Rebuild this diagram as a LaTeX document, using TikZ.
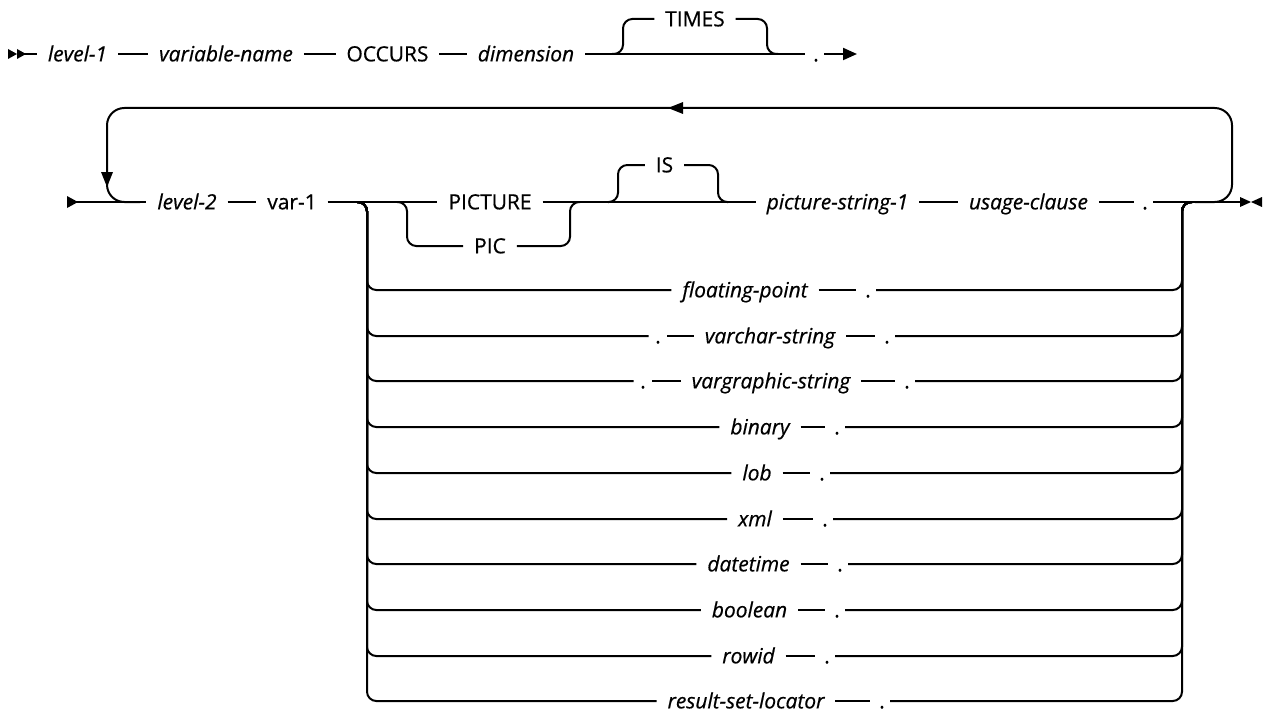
\documentclass[tikz,border=0pt]{standalone}
\usepackage{fontspec}
\setmainfont{Open Sans}[FakeBold=0.6]
\usetikzlibrary{arrows.meta}
\begin{document}
\begin{tikzpicture}[x=0.75pt,y=-0.75pt, line width=1.5pt,
  every node/.style={font=\fontsize{15.7}{18}\selectfont, inner ysep=0pt, inner xsep=7.5pt, text height=11pt, text depth=0pt},
  var/.style={font=\fontsize{15.7}{18}\selectfont\itshape},
  dotn/.style={inner sep=0pt},
  rr/.style={rounded corners=7pt},
  loopr/.style={rounded corners=13pt},
  endarrow/.style={-{Triangle[length=10.5pt,width=9pt]}},
]
\useasboundingbox[fill=white] (0,0) rectangle (1269,713);

% ---------- Row 1 ----------
\fill (8,49) -- (17,54) -- (8,59) -- cycle;
\fill (17,49) -- (26,54) -- (17,59) -- cycle;
\coordinate (s1) at (24,54);
\node[var] (L1) at (77.5,54) {level-1};
\node[var] (VN) at (226,54) {variable-name};
\node (OC) at (387.5,54) {OCCURS};
\node[var] (DIM) at (526,54) {dimension};
\node (TIMES) at (695,19) {TIMES};
\node[dotn] (D0) at (816,54) {.};
\coordinate (e1) at (857,54);
\draw (s1) -- (L1) -- (VN) -- (OC) -- (DIM) -- ([xshift=-8pt]D0.center);
\draw[endarrow] ([xshift=6pt]D0.center) -- (e1);
\draw[rr] (612,54) -- (623,54) -- (623,19) -- (TIMES);
\draw[rr] (TIMES) -- (767,19) -- (767,54) -- (778,54);

% ---------- Row 2 ----------
\fill (67,196) -- (78,202) -- (67,208) -- cycle;
\coordinate (s2) at (76,202);
\node[var] (L2) at (187,202) {level-2};
\node (V1) at (292,202) {var-1};
\node (PICT) at (490,202) {PICTURE};
\node (PIC) at (490,246) {PIC};
\node (IS) at (664.5,165) {IS};
\node[var] (PS) at (837.5,202) {picture-string-1};
\node[var] (UC) at (1028.5,202) {usage-clause};
\node[dotn] (D1) at (1145,202) {.};
\coordinate (e2) at (1241,202);
\draw (s2) -- (L2) -- (V1) -- (PICT) -- (PS) -- (UC) -- ([xshift=-8pt]D1.center);
\draw ([xshift=6pt]D1.center) -- (e2);
\fill (1240,197) -- (1251,202) -- (1240,207) -- cycle;
\fill (1262,197) -- (1251,202) -- (1262,207) -- cycle;

% repeat loop
\draw[loopr] (1195,202) -- (1232,202) -- (1232,108) -- (107,108) -- (107,202) -- (140,202);
\fill (668,108) -- (683,102) -- (683,114) -- cycle;
\fill (107,187) -- (101,172) -- (113,172) -- cycle;

% PICTURE / PIC
\draw[rr] (397,202) -- (407,202) -- (407,246) -- (PIC);
\draw[rr] (PIC) -- (570,246) -- (570,202) -- (580,202);
% optional IS
\draw[rr] (608,202) -- (618,202) -- (618,165) -- (IS);
\draw[rr] (IS) -- (718,165) -- (718,202) -- (728,202);

% ---------- Alternatives ----------
\node[var] (FP) at (745,290) {floating-point};
\node[dotn] (FPd) at (868,290) {.};
\node[dotn] (VCa) at (658,336) {.};
\node[var] (VC) at (770,336) {varchar-string};
\node[dotn] (VCb) at (887,336) {.};
\node[dotn] (VGa) at (643,381) {.};
\node[var] (VG) at (771,381) {vargraphic-string};
\node[dotn] (VGb) at (907,381) {.};
\node[var] (BI) at (760,427) {binary};
\node[dotn] (BId) at (837,427) {.};
\node[var] (LO) at (757,473) {lob};
\node[dotn] (LOd) at (822,473) {.};
\node[var] (XM) at (755,519) {xml};
\node[dotn] (XMd) at (825,519) {.};
\node[var] (DT) at (748.5,564) {datetime};
\node[dotn] (DTd) at (840,564) {.};
\node[var] (BO) at (749.5,610) {boolean};
\node[dotn] (BOd) at (837,610) {.};
\node[var] (RI) at (748.5,656) {rowid};
\node[dotn] (RId) at (827,656) {.};
\node[var] (RS) at (746,701) {result-set-locator};
\node[dotn] (RSd) at (882,701) {.};

% left rails
\draw[rr] (357,202) -- (367,202) -- (367,290) -- (FP);
\draw[rr] (357,202) -- (367,202) -- (367,336) -- ([xshift=-7pt]VCa.center);
\draw[rr] (357,202) -- (367,202) -- (367,381) -- ([xshift=-7pt]VGa.center);
\draw[rr] (357,202) -- (367,202) -- (367,427) -- (BI);
\draw[rr] (357,202) -- (367,202) -- (367,473) -- (LO);
\draw[rr] (357,202) -- (367,202) -- (367,519) -- (XM);
\draw[rr] (357,202) -- (367,202) -- (367,564) -- (DT);
\draw[rr] (357,202) -- (367,202) -- (367,610) -- (BO);
\draw[rr] (357,202) -- (367,202) -- (367,656) -- (RI);
\draw[rr] (357,202) -- (367,202) -- (367,701) -- (RS);

% inner segments
\draw (FP) -- ([xshift=-9pt]FPd.center);
\draw ([xshift=7pt]VCa.center) -- (VC) -- ([xshift=-9pt]VCb.center);
\draw ([xshift=7pt]VGa.center) -- (VG) -- ([xshift=-9pt]VGb.center);
\draw (BI) -- ([xshift=-9pt]BId.center);
\draw (LO) -- ([xshift=-9pt]LOd.center);
\draw (XM) -- ([xshift=-9pt]XMd.center);
\draw (DT) -- ([xshift=-9pt]DTd.center);
\draw (BO) -- ([xshift=-9pt]BOd.center);
\draw (RI) -- ([xshift=-9pt]RId.center);
\draw (RS) -- ([xshift=-9pt]RSd.center);

% right rails
\draw[rr] ([xshift=6pt]FPd.center) -- (1182,290) -- (1182,202) -- (1192,202);
\draw[rr] ([xshift=6pt]VCb.center) -- (1182,336) -- (1182,202) -- (1192,202);
\draw[rr] ([xshift=6pt]VGb.center) -- (1182,381) -- (1182,202) -- (1192,202);
\draw[rr] ([xshift=6pt]BId.center) -- (1182,427) -- (1182,202) -- (1192,202);
\draw[rr] ([xshift=6pt]LOd.center) -- (1182,473) -- (1182,202) -- (1192,202);
\draw[rr] ([xshift=6pt]XMd.center) -- (1182,519) -- (1182,202) -- (1192,202);
\draw[rr] ([xshift=6pt]DTd.center) -- (1182,564) -- (1182,202) -- (1192,202);
\draw[rr] ([xshift=6pt]BOd.center) -- (1182,610) -- (1182,202) -- (1192,202);
\draw[rr] ([xshift=6pt]RId.center) -- (1182,656) -- (1182,202) -- (1192,202);
\draw[rr] ([xshift=6pt]RSd.center) -- (1182,701) -- (1182,202) -- (1192,202);
\end{tikzpicture}
\end{document}
